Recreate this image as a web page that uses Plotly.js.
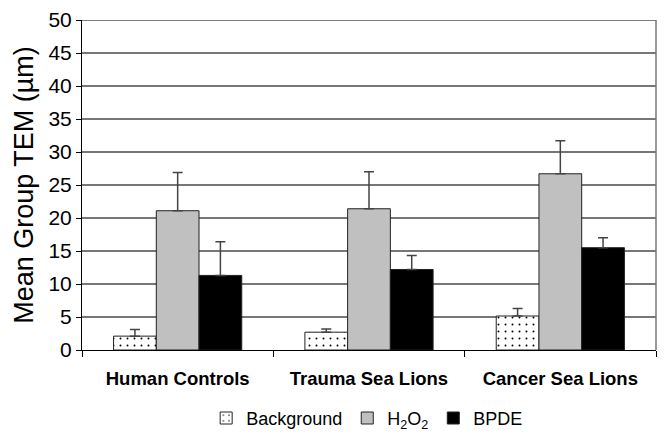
<!DOCTYPE html>
<html><head><meta charset="utf-8">
<script src="https://cdn.plot.ly/plotly-3.0.1.min.js"></script>
<style>body{margin:0;background:#fff}#c{width:670px;height:439px}</style>
</head><body><div id="c"></div>
<script>
const categories = ["Human Controls", "Trauma Sea Lions", "Cancer Sea Lions"];
const seriesNames = ["Background", "H<sub>2</sub>O<sub>2</sub>", "BPDE"];
const background = [2.1, 2.7, 5.15];
const backgroundErr = [1.0, 0.5, 1.15];
const h2o2 = [21.1, 21.4, 26.7];
const h2o2Err = [5.8, 5.6, 5.0];
const bpde = [11.3, 12.2, 15.5];
const bpdeErr = [5.1, 2.1, 1.5];
const yTicks = [0, 5, 10, 15, 20, 25, 30, 35, 40, 45, 50];

const font = "Liberation Sans, Arial, sans-serif";
function errObj(arr){
  return {type:"data", array:arr, arrayminus:arr.map(()=>0), symmetric:false,
          visible:true, color:"#444", thickness:1.5, width:5};
}
const line = {color:"#222", width:1};
const traces = [
  {type:"bar", name:seriesNames[0], x:categories, y:background, error_y:errObj(backgroundErr),
   marker:{color:"#fff", line:line, pattern:{shape:".", fgcolor:"#000", bgcolor:"#fff", size:7, solidity:0.06}}},
  {type:"bar", name:seriesNames[1], x:categories, y:h2o2, error_y:errObj(h2o2Err),
   marker:{color:"#c0c0c0", line:line}},
  {type:"bar", name:seriesNames[2], x:categories, y:bpde, error_y:errObj(bpdeErr),
   marker:{color:"#000", line:line}}
];
const layout = {
  width:670, height:439,
  margin:{l:82, r:14, t:20, b:89, autoexpand:false},
  paper_bgcolor:"#fff", plot_bgcolor:"#fff",
  font:{family:font, color:"#000"},
  barmode:"group", bargap:0.33, bargroupgap:0,
  showlegend:true,
  legend:{orientation:"h", x:0.548, xref:"container", xanchor:"center",
          y:0.005, yref:"container", yanchor:"bottom",
          font:{size:18, family:font}, itemwidth:30, tracegroupgap:0},
  xaxis:{type:"category", showline:true, linecolor:"#000", linewidth:1,
         ticks:"outside", tickson:"boundaries", ticklen:6, tickcolor:"#000",
         ticklabelstandoff:12,
         tickfont:{size:18.5, family:font, weight:"bold"}, showgrid:false},
  yaxis:{range:[0,50], tickvals:yTicks, ticktext:yTicks.map(String),
         showline:true, linecolor:"#000", linewidth:1,
         ticks:"outside", ticklen:5, tickcolor:"#000",
         tickfont:{size:21, family:font},
         showgrid:true, gridcolor:"#777", gridwidth:1.2, zeroline:false,
         title:{text:"Mean Group TEM (\u00b5m)", font:{size:27, family:font}, standoff:6}},
  shapes:[
    {type:"line", xref:"paper", yref:"y", x0:0, x1:1, y0:50, y1:50, line:{color:"#000", width:1.2}},
    {type:"line", xref:"paper", yref:"paper", x0:1, x1:1, y0:0, y1:1, line:{color:"#777", width:1.5}}
  ]
};
Plotly.newPlot("c", traces, layout, {displayModeBar:false, staticPlot:true});
</script></body></html>
